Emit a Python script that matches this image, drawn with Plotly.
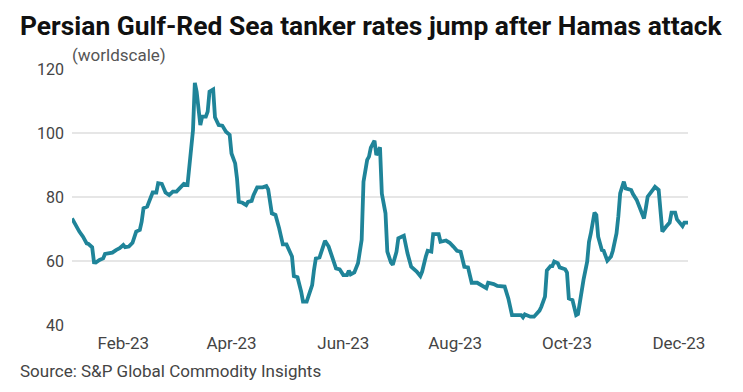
import plotly.graph_objects as go

dates = [
    "2023-01-04", "2023-01-06", "2023-01-08", "2023-01-10", "2023-01-12", "2023-01-13", "2023-01-15",
    "2023-01-16", "2023-01-17", "2023-01-19", "2023-01-21", "2023-01-22", "2023-01-24", "2023-01-26",
    "2023-01-28", "2023-01-30", "2023-02-01", "2023-02-02", "2023-02-04", "2023-02-06", "2023-02-08",
    "2023-02-10", "2023-02-11", "2023-02-12", "2023-02-14", "2023-02-16", "2023-02-17", "2023-02-19",
    "2023-02-20", "2023-02-22", "2023-02-24", "2023-02-26", "2023-02-28", "2023-03-02", "2023-03-05",
    "2023-03-06", "2023-03-08", "2023-03-09", "2023-03-11", "2023-03-12", "2023-03-13", "2023-03-15",
    "2023-03-16", "2023-03-18", "2023-03-19", "2023-03-20", "2023-03-22", "2023-03-23", "2023-03-25",
    "2023-03-27", "2023-03-29", "2023-03-31", "2023-04-01", "2023-04-03", "2023-04-04", "2023-04-05",
    "2023-04-07", "2023-04-09", "2023-04-10", "2023-04-12", "2023-04-13", "2023-04-15", "2023-04-18",
    "2023-04-20", "2023-04-21", "2023-04-23", "2023-04-25", "2023-04-27", "2023-04-29", "2023-05-01",
    "2023-05-03", "2023-05-04", "2023-05-05", "2023-05-07", "2023-05-09", "2023-05-10", "2023-05-12",
    "2023-05-14", "2023-05-15", "2023-05-16", "2023-05-17", "2023-05-19", "2023-05-22", "2023-05-24",
    "2023-05-26", "2023-05-28", "2023-05-30", "2023-06-01", "2023-06-03", "2023-06-04", "2023-06-05",
    "2023-06-07", "2023-06-09", "2023-06-11", "2023-06-12", "2023-06-14", "2023-06-15", "2023-06-16",
    "2023-06-18", "2023-06-19", "2023-06-21", "2023-06-22", "2023-06-24", "2023-06-25", "2023-06-27",
    "2023-06-28", "2023-06-30", "2023-07-01", "2023-07-04", "2023-07-05", "2023-07-06", "2023-07-08",
    "2023-07-11", "2023-07-13", "2023-07-14", "2023-07-16", "2023-07-17", "2023-07-19", "2023-07-20",
    "2023-07-23", "2023-07-24", "2023-07-27", "2023-07-29", "2023-07-31", "2023-08-02", "2023-08-04",
    "2023-08-06", "2023-08-08", "2023-08-10", "2023-08-13", "2023-08-16", "2023-08-18", "2023-08-19",
    "2023-08-22", "2023-08-24", "2023-08-28", "2023-08-30", "2023-09-01", "2023-09-04", "2023-09-06",
    "2023-09-07", "2023-09-08", "2023-09-11", "2023-09-13", "2023-09-16", "2023-09-17", "2023-09-19",
    "2023-09-20", "2023-09-22", "2023-09-23", "2023-09-24", "2023-09-26", "2023-09-27", "2023-09-30",
    "2023-10-01", "2023-10-02", "2023-10-04", "2023-10-06", "2023-10-07", "2023-10-08", "2023-10-10",
    "2023-10-12", "2023-10-13", "2023-10-14", "2023-10-16", "2023-10-17", "2023-10-18", "2023-10-20",
    "2023-10-21", "2023-10-23", "2023-10-25", "2023-10-26", "2023-10-28", "2023-10-29", "2023-10-30",
    "2023-11-01", "2023-11-02", "2023-11-05", "2023-11-06", "2023-11-08", "2023-11-10", "2023-11-12",
    "2023-11-13", "2023-11-14", "2023-11-17", "2023-11-18", "2023-11-20", "2023-11-21", "2023-11-22",
    "2023-11-24", "2023-11-26", "2023-11-27", "2023-11-29", "2023-11-30", "2023-12-02", "2023-12-03",
    "2023-12-04", "2023-12-06",
]

rates = [
    73.3, 71.0, 69.2, 67.6, 65.5, 65.3, 64.3,
    59.6, 59.5, 60.3, 60.8, 62.2, 62.4, 62.6,
    63.4, 64.0, 65.0, 64.3, 64.5, 65.7, 69.2,
    69.7, 72.3, 76.5, 77.0, 80.3, 81.4, 81.4,
    84.3, 84.1, 81.4, 80.6, 81.7, 81.7, 83.4,
    84.1, 83.8, 90.5, 100.9, 115.7, 112.9, 102.5,
    105.1, 105.1, 106.7, 112.9, 113.6, 104.9, 102.5,
    102.3, 100.4, 99.4, 93.6, 90.5, 85.8, 78.5,
    78.2, 77.5, 78.5, 78.8, 80.6, 83.0, 83.0,
    83.4, 82.4, 74.9, 74.4, 70.2, 65.2, 65.2,
    62.6, 61.4, 55.3, 54.9, 50.4, 47.3, 47.3,
    50.9, 52.5, 57.2, 60.8, 61.1, 66.3, 64.5,
    60.8, 57.7, 57.4, 55.6, 55.6, 57.0, 55.8,
    56.4, 59.3, 66.6, 84.8, 91.6, 92.6, 95.4,
    97.6, 93.1, 95.5, 81.1, 74.9, 62.9, 59.5,
    58.8, 62.9, 67.1, 67.9, 64.5, 62.4, 58.2,
    56.7, 55.3, 56.7, 61.4, 63.2, 62.9, 68.4,
    68.4, 66.0, 66.4, 65.7, 64.5, 63.2, 62.9,
    58.2, 58.0, 53.2, 53.2, 52.2, 51.5, 53.2,
    52.8, 52.2, 52.0, 48.3, 43.1, 43.1, 43.1,
    42.4, 43.3, 42.6, 42.6, 44.5, 45.7, 48.9,
    57.0, 58.4, 58.4, 59.8, 59.3, 58.0, 57.4,
    56.4, 48.3, 47.8, 43.1, 43.4, 47.3, 54.1,
    59.8, 66.0, 68.6, 75.1, 74.4, 67.6, 63.4,
    63.2, 60.1, 61.4, 63.2, 68.6, 73.9, 81.1,
    84.8, 82.7, 82.2, 80.9, 79.1, 75.9, 73.3,
    76.5, 80.1, 82.4, 83.2, 82.2, 74.9, 69.2,
    70.7, 72.0, 75.1, 75.1, 73.0, 71.8, 70.9,
    72.0, 72.0,
]

y_ticks = [40, 60, 80, 100, 120]

title_text = "Persian Gulf-Red Sea tanker rates jump after Hamas attack"
unit_text = "(worldscale)"
source_text = "Source: S&P Global Commodity Insights"

FONT = "Roboto, Inter, 'Noto Sans', sans-serif"

# figure sits 8px in from page top-left (body margin), so size it to fill the rest
W, H = 735, 384
L, R, T, B = 64, 55, 61, 67
PW, PH = W - L - R, H - T - B

fig = go.Figure()
fig.add_trace(go.Scatter(
    x=dates, y=rates, mode="lines",
    line=dict(color="#1f8499", width=3.8, shape="linear"),
    hoverinfo="x+y", showlegend=False,
))

fig.update_layout(
    width=W, height=H,
    margin=dict(l=L, r=R, t=T, b=B),
    paper_bgcolor="white", plot_bgcolor="white",
    font=dict(family=FONT, color="#444444", size=16),
    xaxis=dict(
        type="date",
        range=["2023-01-04", "2023-12-06"],
        tick0="2023-02-01", dtick="M2", tickformat="%b-%y",
        showgrid=False, zeroline=False, showline=False,
        ticks="", ticklabelstandoff=6,
        tickfont=dict(family=FONT, size=17, color="#444444"),
    ),
    yaxis=dict(
        range=[40, 120], tickvals=y_ticks,
        showgrid=True, gridcolor="#e6e6e6", gridwidth=1.5,
        zeroline=False, showline=False, ticks="",
        ticklabelstandoff=7,
        tickfont=dict(family=FONT, size=16, color="#444444"),
    ),
    annotations=[
        dict(text="<b>" + title_text + "</b>", xref="paper", yref="paper",
             x=(10 - L) / PW, y=1 + (T - 1) / PH, xanchor="left", yanchor="top",
             showarrow=False, font=dict(family=FONT, size=26.4, color="#111111")),
        dict(text=unit_text, xref="paper", yref="paper",
             x=(62 - L) / PW, y=1 + 2 / PH, xanchor="left", yanchor="bottom",
             showarrow=False, font=dict(family=FONT, size=17, color="#555555")),
        dict(text=source_text, xref="paper", yref="paper",
             x=(10 - L) / PW, y=-34 / PH, xanchor="left", yanchor="top",
             showarrow=False, font=dict(family=FONT, size=17, color="#444444")),
    ],
)

fig.write_html("out.html")
